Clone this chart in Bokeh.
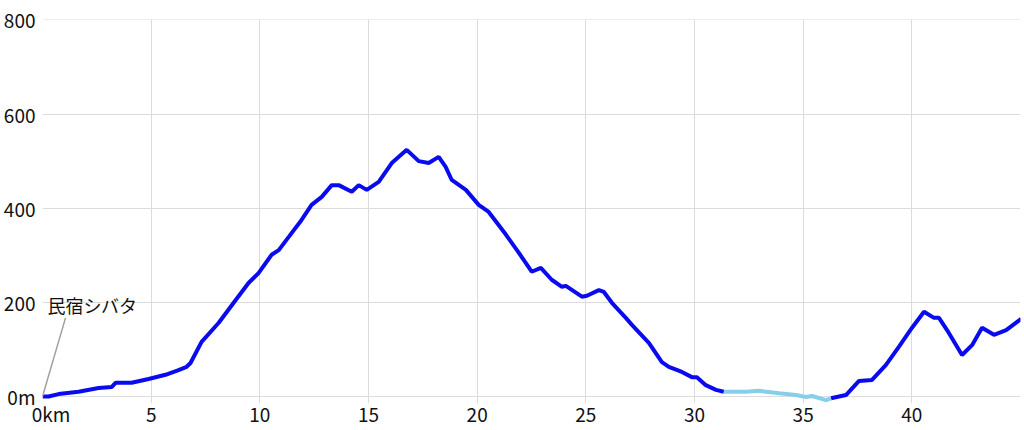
from bokeh.plotting import figure
from bokeh.models import Range1d
from bokeh.core.properties import value
from bokeh.embed import file_html
from bokeh.resources import INLINE

# Elevation profile (km, metres)
km_climb = [0.0, 0.28, 0.74, 1.66, 2.58, 3.18, 3.36, 4.10, 4.88, 5.66, 6.26, 6.63, 6.81,
            7.32, 8.10, 8.89, 9.48, 9.94, 10.54, 10.87, 11.33, 11.92, 12.38, 12.85, 13.31,
            13.63, 14.23, 14.55, 14.92, 15.47, 16.07, 16.76, 17.31, 17.77, 18.23, 18.55,
            18.83, 19.48, 20.07, 20.53, 21.32, 21.92, 22.51, 22.93, 23.43, 23.90, 24.08,
            24.82, 25.05, 25.60, 25.83, 26.20, 26.84, 27.12, 27.90, 28.50, 28.82, 29.42,
            29.88, 30.11, 30.52, 30.99, 31.35]
elev_climb = [0, 0, 5, 10, 18, 20, 29, 29, 37, 46, 56, 63, 71,
              116, 156, 205, 241, 262, 301, 311, 339, 375, 407, 424, 449,
              449, 435, 449, 439, 456, 496, 524, 500, 496, 509, 488,
              460, 439, 407, 392, 344, 305, 265, 273, 248, 233, 235,
              212, 214, 226, 222, 199, 167, 152, 114, 73, 63, 52,
              41, 41, 24, 14, 10]

km_flat = [31.35, 32.37, 32.97, 33.89, 34.67, 35.13, 35.41, 36.05, 36.28]
elev_flat = [10, 10, 12, 7, 3, -1, 1, -8, -4]

km_end = [36.28, 36.97, 37.57, 38.17, 38.81, 39.41, 40.01, 40.56, 41.02, 41.25, 41.62,
          42.31, 42.77, 43.23, 43.78, 44.34, 45.03]
elev_end = [-4, 3, 33, 35, 67, 106, 146, 180, 167, 167, 141,
            88, 109, 146, 131, 141, 165]

x_ticks = [0, 5, 10, 15, 20, 25, 30, 35, 40]
y_ticks = [0, 200, 400, 600, 800]
x_zero_label = "0km"
y_zero_label = "0m"
start_name = "民宿シバタ"
start_km = 0.0
start_elev = 0

FONT = "Noto Sans CJK JP"
NBSP = "\u00a0"

p = figure(frame_width=978, frame_height=384, output_backend="svg", toolbar_location=None,
           x_range=Range1d(0, 45), y_range=Range1d(-15, 801),
           min_border_left=42, min_border_right=2, min_border_top=19, min_border_bottom=18)
p.outline_line_color = None
p.background_fill_color = "white"
p.border_fill_color = "white"

for g in (p.xgrid, p.ygrid):
    g.grid_line_color = "#dcdcdc"
    g.grid_line_width = 1
p.xgrid.ticker = x_ticks
p.ygrid.ticker = y_ticks

p.xaxis.ticker = x_ticks
p.yaxis.ticker = y_ticks
p.xaxis.major_label_overrides = {0: NBSP * 4 + x_zero_label}
p.yaxis.major_label_overrides = {0: y_zero_label}
for ax in (p.xaxis, p.yaxis):
    ax.axis_line_color = None
    ax.major_tick_line_color = None
    ax.minor_tick_line_color = None
    ax.major_tick_out = 0
    ax.major_tick_in = 0
    ax.major_label_text_font = FONT
    ax.major_label_text_font_size = "19px"
    ax.major_label_text_color = "#111111"
p.xaxis.major_label_standoff = -4
p.yaxis.major_label_standoff = 7

p.line(km_climb, elev_climb, line_color="#0a0aee", line_width=4)
p.line(km_end, elev_end, line_color="#0a0aee", line_width=4)
p.line(km_flat, elev_flat, line_color="#87ceeb", line_width=4)

# start marker annotation
p.segment(x0=[start_km], y0=[start_elev], x1=[start_km + 1.06], y1=[start_elev + 167],
          line_color="#a0a0a0", line_width=1.5)
p.text(x=[start_km + 0.23], y=[start_elev + 194], text=[start_name],
       text_font=value(FONT), text_font_size="18px", text_color="#111111",
       text_align="left", text_baseline="middle")

open("out.html", "w").write(file_html(p, INLINE))
